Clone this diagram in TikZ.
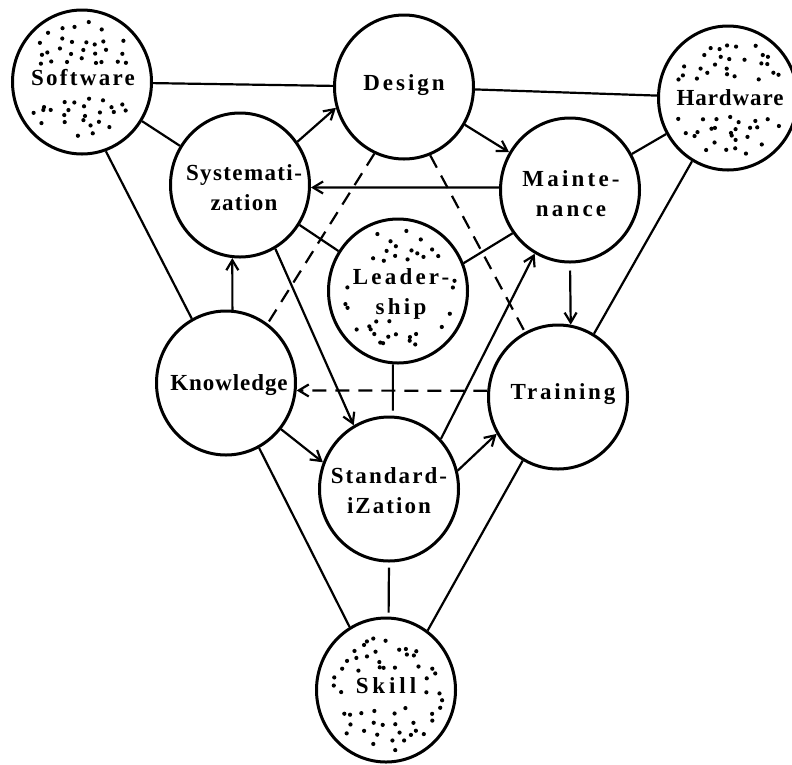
\documentclass[tikz,border=0pt]{standalone}
\usepackage{fontspec}
\setmainfont{Liberation Serif}
\newfontfamily\labfont{Liberation Serif}
\newcommand\ls[1]{\addfontfeature{LetterSpace=#1}}
\usetikzlibrary{shapes.geometric,arrows.meta}
\newcommand\stipple[4]{%
  \begin{scope}[shift={(#1.center)}]
  \pgfmathsetseed{#2}%
  \foreach \i in {-6,...,6}{%
   \foreach \j in {-6,...,6}{%
    \pgfmathsetmacro\xx{\i*10.5+4.5*rand}%
    \pgfmathsetmacro\yy{\j*10.5+4.5*rand}%
    \pgfmathsetmacro\kp{rnd}%
    \pgfmathtruncatemacro\ok{((\xx/58)^2+(\yy/61)^2<1) && ((abs(\xx)>#3)||(abs(\yy)>#4)) && (\kp<0.75)}%
    \ifnum\ok=1 \fill (\xx pt,\yy pt) circle (2.1pt);\fi
   }}%
  \end{scope}%
}
\begin{document}
\begin{tikzpicture}[x=1pt,y=1pt,
  blob/.style={ellipse,draw,line width=3pt,minimum width=139pt,minimum height=144pt,inner sep=0pt},
  lab/.style={inner sep=0pt,font=\labfont\bfseries\fontsize{23}{30}\selectfont,align=center},
  conn/.style={line width=2.2pt},
  arr/.style={conn,-{Straight Barb[length=10pt,width=12pt]}},
  dsh/.style={conn,dash pattern=on 14pt off 9pt}]
\useasboundingbox (0,0) rectangle (792,-764);
\fill[white] (0,0) rectangle (792,-764);
\node[blob] (SW) at (82,-82) {};
\node[blob] (DE) at (404,-87) {};
\node[blob] (HW) at (728,-98) {};
\node[blob] (SY) at (240,-185) {};
\node[blob] (MA) at (570,-190) {};
\node[blob] (LE) at (398,-291) {};
\node[blob] (KN) at (226,-383) {};
\node[blob] (TR) at (558,-397) {};
\node[blob] (ST) at (389,-489) {};
\node[blob] (SK) at (386,-690) {};
\node[lab] (SWt) at ([shift={(1,4)}]SW.center) {\ls{10}Software};
\node[lab] (DEt) at ([shift={(0,2)}]DE.center) {\ls{13}Design};
\node[lab] (HWt) at ([shift={(2,0)}]HW.center) {\ls{4}Hardware};
\node[lab] (SYt) at ([shift={(4,-3)}]SY.center) {\ls{6}Systemati-\\\ls{6}zation};
\node[lab] (MAt) at ([shift={(1,-4)}]MA.center) {\ls{14}Mainte-\\\ls{14}nance};
\node[lab] (LEt) at ([shift={(3,-3)}]LE.center) {\ls{14}Leader-\\\ls{14}ship};
\node[lab] (KNt) at ([shift={(3,-2)}]KN.center) {\ls{4}Knowledge};
\node[lab] (TRt) at ([shift={(5,3)}]TR.center) {\ls{12}Training};
\node[lab] (STt) at ([shift={(0,-2)}]ST.center) {\ls{9}Standard-\\\ls{9}iZation};
\node[lab] (SKt) at ([shift={(0,4)}]SK.center) {\ls{17}Skill};
\stipple{SW}{11}{70}{15}
\stipple{HW}{23}{70}{15}
\stipple{LE}{37}{50}{30}
\stipple{SK}{41}{38}{13}
% solid links
\draw[conn] (SW) -- (DE);
\draw[conn] (DE) -- (HW);
\draw[conn] (SW) -- (SY);
\draw[conn] (SW.-71) -- (KN.118);
\draw[conn] (HW) -- (MA);
\draw[conn] (HW) -- (TR);
\draw[conn] (SY) -- (LE);
\draw[conn] (MA.217) -- (LE.23);
\draw[conn,shorten >=5pt] (LE.266) -- (ST.87);
\draw[conn] (KN.-63) -- (SK.120);
\draw[conn] (TR.241) -- (SK.55);
\draw[conn,shorten <=5pt,shorten >=4pt] (ST.south) -- (SK.88);
% arrows
\draw[arr] (SY.37) -- (DE.197);
\draw[arr] (MA.178) -- (SY.-2);
\draw[arr] (DE) -- (MA);
\draw[arr] (KN.85) -- (SY.264);
\draw[arr] (SY.-61) -- (ST.119);
\draw[arr,shorten <=7pt] (MA.-90) -- (TR.80);
\draw[arr] (ST.44) -- (MA.241);
\draw[arr] (KN.-40) -- (ST.158);
\draw[arr] (ST.15) -- (TR.211);
% dashed
\draw[dsh] (DE.246) -- (KN.55);
\draw[dsh] (DE.-69) -- (TR.117);
\draw[dsh,-{Straight Barb[length=10pt,width=12pt]}] (TR.175) -- (KN.-6);
\end{tikzpicture}
\end{document}
